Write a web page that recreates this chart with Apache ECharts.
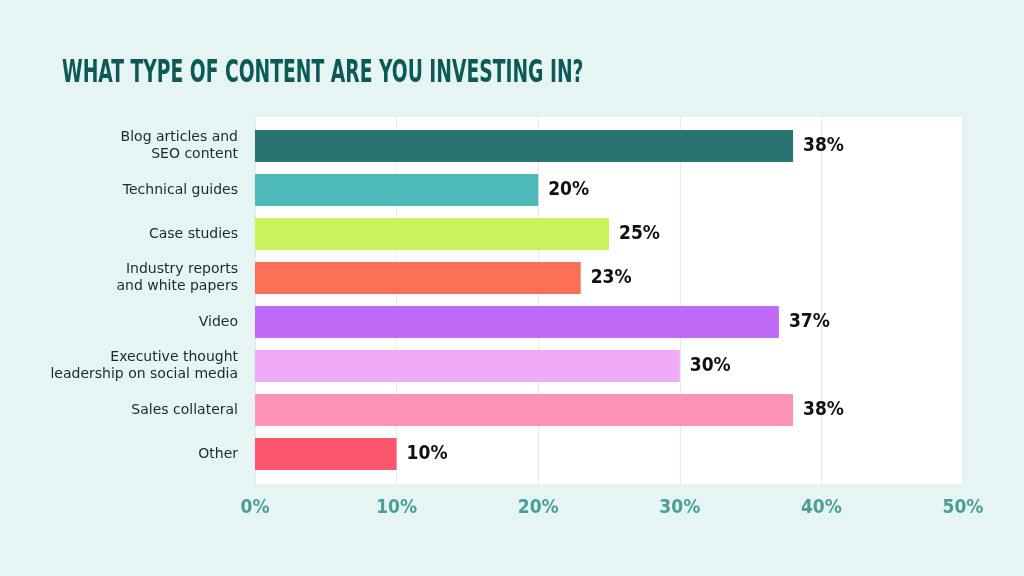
<!DOCTYPE html>
<html>
<head>
<meta charset="utf-8">
<script src="https://cdn.jsdelivr.net/npm/echarts@6/dist/echarts.min.js"></script>
<style>
html,body{margin:0;padding:0;background:#e7f4f4;}
#c{width:1024px;height:576px;}
</style>
</head>
<body>
<div id="c"></div>
<script>
const titleText = 'WHAT TYPE OF CONTENT ARE YOU INVESTING IN?';
const categories = [
  'Blog articles and\nSEO content',
  'Technical guides',
  'Case studies',
  'Industry reports\nand white papers',
  'Video',
  'Executive thought\nleadership on social media',
  'Sales collateral',
  'Other'
];
const values = [38, 20, 25, 23, 37, 30, 38, 10];
const colors = ['#2b7370', '#4db9b9', '#c9f35b', '#fb6f56', '#bf6bf8', '#f0abf8', '#fe93b8', '#fe556e'];
const xTicks = [0, 10, 20, 30, 40, 50];

const narrow = "'DejaVu Sans Condensed','Liberation Sans Narrow',sans-serif";
const chart = echarts.init(document.getElementById('c'));
chart.setOption({
  backgroundColor: '#e7f4f4',
  animation: false,
  graphic: [{
    type: 'text', left: 62, top: 58, scaleX: 0.65,
    style: {text: titleText, font: "bold 32px 'DejaVu Sans Condensed', sans-serif", fill: '#0c5a56'}
  }],
  grid: [
    {left: 255, right: 61, top: 116, height: 369, show: true, backgroundColor: '#ffffff', borderColor: '#d8ecec', borderWidth: 1},
    {left: 255, right: 61, top: 124, height: 352}
  ],
  xAxis: [
    {
      type: 'value', gridIndex: 0, min: xTicks[0], max: xTicks[xTicks.length - 1], interval: 10,
      axisLine: {show: false}, axisTick: {show: false},
      splitLine: {lineStyle: {color: '#dcefef', width: 1}},
      axisLabel: {formatter: '{value}%', margin: 14, fontFamily: narrow, fontWeight: 'bold', fontSize: 19, color: '#4a9f99'}
    },
    {
      type: 'value', gridIndex: 1, min: xTicks[0], max: xTicks[xTicks.length - 1], show: false
    }
  ],
  yAxis: [
    {type: 'category', gridIndex: 0, show: false, data: ['a']},
    {
      type: 'category', gridIndex: 1, inverse: true, data: categories,
      axisLine: {show: false}, axisTick: {show: false},
      axisLabel: {margin: 17, fontFamily: "'DejaVu Sans',sans-serif", fontSize: 14, lineHeight: 17, color: '#1c2929', align: 'right'}
    }
  ],
  series: [{
    type: 'bar', xAxisIndex: 1, yAxisIndex: 1,
    barWidth: 32,
    data: values.map((v, i) => ({value: v, itemStyle: {color: colors[i]}})),
    label: {
      show: true, position: 'right', distance: 10,
      formatter: '{c}%',
      fontFamily: narrow, fontWeight: 'bold', fontSize: 19, color: '#111'
    }
  }]
});
</script>
</body>
</html>
